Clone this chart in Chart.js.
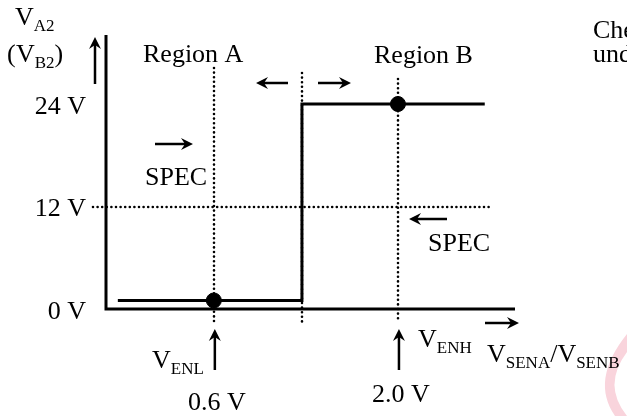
<!DOCTYPE html>
<html>
<head>
<meta charset="utf-8">
<script src="https://cdn.jsdelivr.net/npm/chart.js@4"></script>
<style>
  body { margin: 0; background: #fff; }
  canvas { display: block; }
</style>
</head>
<body>
<canvas id="stepChart" width="627" height="416"></canvas>
<script>
// thresholds on the sense input (V) and output levels (V)
let xTickValues = [0.6, 2.0];
let xTickLabels = ['0.6 V', '2.0 V'];
let yTickValues = [0, 12, 24];
let yTickLabels = ['0 V', '12 V', '24 V'];

// output step: low level, then jumps to 24 V
let stepX = [-0.13, 1.27, 1.27, 2.66];
let stepY = [1, 1, 24, 24];
let switchX = 1.27;
let specLevel = 12;

// marked operating points
let markX = [0.6, 2.0];
let markY = [1, 24];

const FONT = '"Liberation Serif", "Times New Roman", serif';

function sub(ctx, x, y, main, s, size) {
    size = size || 26;
    ctx.font = size + 'px ' + FONT;
    ctx.fillText(main, x, y);
    let w = ctx.measureText(main).width;
    ctx.font = '17px ' + FONT;
    ctx.fillText(s, x + w, y + 6);
    return x + w + ctx.measureText(s).width;
}

function arrow(ctx, x1, y1, x2, y2) {
    let a = Math.atan2(y2 - y1, x2 - x1);
    ctx.beginPath();
    ctx.moveTo(x1, y1);
    ctx.lineTo(x2 - 6 * Math.cos(a), y2 - 6 * Math.sin(a));
    ctx.lineWidth = 2.5;
    ctx.stroke();
    ctx.beginPath();
    ctx.moveTo(x2, y2);
    ctx.lineTo(x2 - 12 * Math.cos(a) + 6 * Math.sin(a), y2 - 12 * Math.sin(a) - 6 * Math.cos(a));
    ctx.lineTo(x2 - 8 * Math.cos(a), y2 - 8 * Math.sin(a));
    ctx.lineTo(x2 - 12 * Math.cos(a) - 6 * Math.sin(a), y2 - 12 * Math.sin(a) + 6 * Math.cos(a));
    ctx.closePath();
    ctx.fill();
}

function dotted(c, x1, y1, x2, y2) {
    c.beginPath();
    c.moveTo(x1, y1);
    c.lineTo(x2, y2);
    c.stroke();
}

const guides = {
    id: 'guides',
    beforeDatasetsDraw(chart) {
        const c = chart.ctx;
        const xs = chart.scales.x, ys = chart.scales.y;
        c.save();
        c.strokeStyle = '#000';
        c.lineWidth = 2.6;
        c.lineCap = 'round';
        c.setLineDash([0, 4.6]);
        // vertical dotted lines at thresholds and at the switch point
        let tops = [68, 79];
        xTickValues.forEach((v, i) => {
            let px = Math.round(xs.getPixelForValue(v));
            dotted(c, px, tops[i], px, 322);
        });
        let sx = Math.round(xs.getPixelForValue(switchX));
        dotted(c, sx, 73, sx, 322);
        // horizontal dotted line at 12 V
        let py = Math.round(ys.getPixelForValue(specLevel));
        dotted(c, 93, py, 493, py);
        c.setLineDash([]);
        c.lineCap = 'butt';

        // axes
        let x0 = xs.getPixelForValue(xs.min);
        let y0 = ys.getPixelForValue(0);
        c.lineWidth = 3;
        c.beginPath();
        c.moveTo(x0, chart.chartArea.top);
        c.lineTo(x0, y0);
        c.lineTo(chart.chartArea.right, y0);
        c.stroke();
        c.restore();
    },
    afterDraw(chart) {
        const c = chart.ctx;
        const xs = chart.scales.x, ys = chart.scales.y;
        c.save();
        c.fillStyle = '#000';
        c.strokeStyle = '#000';
        c.textBaseline = 'alphabetic';

        // pink mark at the bottom right corner
        c.fillStyle = '#f9d4dc';
        c.beginPath();
        c.moveTo(627, 334);
        c.quadraticCurveTo(590, 380, 615, 416);
        c.lineTo(627, 416);
        c.quadraticCurveTo(602, 385, 627, 352);
        c.closePath();
        c.fill();
        c.fillStyle = '#000';

        // y-axis title
        sub(c, 15, 25, 'V', 'A2');
        c.font = '26px ' + FONT;
        c.fillText('(', 7, 62);
        let e = sub(c, 16, 62, 'V', 'B2');
        c.font = '26px ' + FONT;
        c.fillText(')', e, 62);
        arrow(c, 95, 84, 95, 37);

        // y tick labels
        c.font = '26px ' + FONT;
        c.textAlign = 'right';
        c.textBaseline = 'middle';
        yTickValues.forEach((v, i) => {
            c.fillText(yTickLabels[i], 86, ys.getPixelForValue(v) + 3);
        });

        // x tick labels
        c.textAlign = 'center';
        c.textBaseline = 'alphabetic';
        let bases = [410, 402];
        xTickValues.forEach((v, i) => {
            let px = xs.getPixelForValue(v);
            c.fillText(xTickLabels[i], px + 3, bases[i]);
            arrow(c, px + 1, 370, px + 1, 329);
        });

        c.textAlign = 'left';
        c.font = '26px ' + FONT;
        c.fillText('Region A', 143, 62);
        c.fillText('Region B', 374, 63);
        c.fillText('SPEC', 145, 185);
        c.fillText('SPEC', 428, 251);
        c.fillText('Check', 593, 38);
        c.fillText('under', 593, 62);

        arrow(c, 288, 83, 256, 83);
        arrow(c, 318, 83, 351, 83);
        arrow(c, 155, 144, 193, 144);
        arrow(c, 447, 219, 409, 219);
        arrow(c, 485, 323, 519, 323);

        sub(c, 152, 368, 'V', 'ENL');
        sub(c, 418, 347, 'V', 'ENH');
        let e2 = sub(c, 487, 362, 'V', 'SENA');
        c.font = '26px ' + FONT;
        c.fillText('/', e2, 362);
        sub(c, e2 + c.measureText('/').width, 362, 'V', 'SENB');
        c.restore();
    }
};

const ctx = document.getElementById('stepChart').getContext('2d');

new Chart(ctx, {
    type: 'scatter',
    data: {
        datasets: [{
            data: stepX.map((x, i) => ({ x: x, y: stepY[i] })),
            showLine: true,
            borderColor: '#000',
            borderWidth: 3,
            pointRadius: 0,
            fill: false
        }, {
            data: markX.map((x, i) => ({ x: x, y: markY[i] })),
            pointRadius: 7.5,
            backgroundColor: '#000',
            borderColor: '#000',
            borderWidth: 1
        }]
    },
    options: {
        responsive: false,
        animation: false,
        layout: { padding: { left: 106, right: 112, top: 35, bottom: 107 } },
        scales: {
            x: { type: 'linear', min: -0.22, max: 2.89, display: false },
            y: { type: 'linear', min: 0, max: 32.08, display: false }
        },
        plugins: {
            legend: { display: false },
            tooltip: { enabled: false }
        }
    },
    plugins: [guides]
});
</script>
</body>
</html>
